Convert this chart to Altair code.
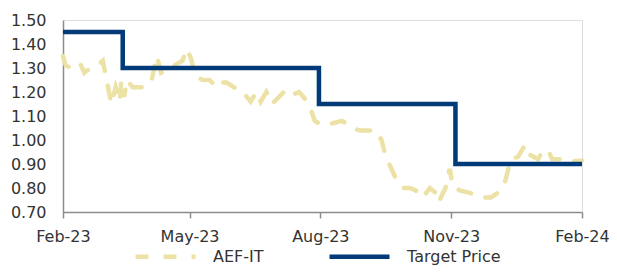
import altair as alt
import pandas as pd

price_dates = [
    "2023-02-01", "2023-02-03", "2023-02-07", "2023-02-13", "2023-02-16", "2023-02-18",
    "2023-02-25", "2023-03-01", "2023-03-04", "2023-03-07", "2023-03-10", "2023-03-13",
    "2023-03-14", "2023-03-16", "2023-03-18", "2023-03-22", "2023-03-27", "2023-03-30",
    "2023-04-04", "2023-04-08", "2023-04-11", "2023-04-15", "2023-04-20", "2023-04-26",
    "2023-04-29", "2023-05-02", "2023-05-05", "2023-05-10", "2023-05-15", "2023-05-20",
    "2023-05-23", "2023-05-27", "2023-06-01", "2023-06-06", "2023-06-13", "2023-06-17",
    "2023-06-20", "2023-06-24", "2023-06-28", "2023-07-03", "2023-07-08", "2023-07-13",
    "2023-07-17", "2023-07-20", "2023-07-24", "2023-07-28", "2023-08-01", "2023-08-07",
    "2023-08-16", "2023-08-19", "2023-08-23", "2023-08-29", "2023-09-04", "2023-09-09",
    "2023-09-13", "2023-09-16", "2023-09-20", "2023-09-23", "2023-09-28", "2023-10-03",
    "2023-10-07", "2023-10-12", "2023-10-17", "2023-10-21", "2023-10-23", "2023-10-28",
    "2023-10-31", "2023-11-02", "2023-11-07", "2023-11-14", "2023-11-22", "2023-11-29",
    "2023-12-06", "2023-12-09", "2023-12-13", "2023-12-18", "2023-12-23", "2023-12-26",
    "2024-01-01", "2024-01-04", "2024-01-08", "2024-01-11", "2024-01-18", "2024-01-25",
    "2024-02-01",
]
price_values = [
    1.35, 1.31, 1.30, 1.32, 1.28, 1.29,
    1.31, 1.33, 1.24, 1.15, 1.22, 1.16,
    1.25, 1.18, 1.25, 1.22, 1.22, 1.22,
    1.24, 1.35, 1.28, 1.29, 1.31, 1.33,
    1.38, 1.34, 1.27, 1.25, 1.25, 1.22,
    1.24, 1.24, 1.22, 1.21, 1.16, 1.20,
    1.16, 1.20, 1.15, 1.18, 1.21, 1.19,
    1.20, 1.18, 1.15, 1.08, 1.065, 1.065,
    1.08, 1.07, 1.05, 1.04, 1.04, 1.04,
    1.00, 0.93, 0.88, 0.84, 0.80, 0.80,
    0.79, 0.76, 0.80, 0.78, 0.74, 0.80,
    0.88, 0.81, 0.79, 0.78, 0.76, 0.76,
    0.79, 0.83, 0.92, 0.93, 0.98, 0.94,
    0.92, 0.95, 0.96, 0.92, 0.92, 0.91,
    0.915,
]

target_dates = ["2023-02-01", "2023-03-15", "2023-07-31", "2023-11-04", "2024-02-01"]
target_values = [1.45, 1.30, 1.15, 0.90, 0.90]

series_names = ["AEF-IT", "Target Price"]
series_colors = ["#EDE2A6", "#003A78"]
series_dash = [[13, 15], [1, 0]]

y_ticks = [0.7, 0.8, 0.9, 1.0, 1.1, 1.2, 1.3, 1.4, 1.5]
x_ticks = ["2023-02-01", "2023-05-01", "2023-08-01", "2023-11-01", "2024-02-01"]

price_df = pd.DataFrame({"date": price_dates, "value": price_values, "series": series_names[0]})
target_df = pd.DataFrame({"date": target_dates, "value": target_values, "series": series_names[1]})

FONT = "DejaVu Sans"
FS = 16
TXT = "#333333"

x_enc = alt.X(
    "date:T",
    scale=alt.Scale(domain=[x_ticks[0], x_ticks[-1]]),
    axis=alt.Axis(
        title=None,
        values=[pd.Timestamp(d).isoformat() for d in x_ticks],
        format="%b-%y",
        labelFontSize=FS,
        labelFont=FONT,
        labelColor=TXT,
        domainColor="#8c8c8c",
        domainWidth=1.5,
        tickColor="#8c8c8c",
        tickWidth=1.5,
        tickSize=6,
        labelPadding=10,
        grid=False,
        labelFlush=False,
        labelOverlap=False,
    ),
)
y_enc = alt.Y(
    "value:Q",
    scale=alt.Scale(domain=[0.7, 1.5], nice=False, zero=False),
    axis=alt.Axis(
        title=None,
        values=y_ticks,
        format=".2f",
        labelFontSize=FS,
        labelFont=FONT,
        labelColor=TXT,
        domainColor="#8c8c8c",
        domainWidth=1.5,
        ticks=False,
        labelPadding=17,
        grid=False,
    ),
)
color_enc = alt.Color(
    "series:N",
    scale=alt.Scale(domain=series_names, range=series_colors),
    legend=alt.Legend(
        title=None,
        orient="none",
        legendX=70,
        legendY=204,
        direction="horizontal",
        symbolType="stroke",
        symbolSize=3600,
        symbolStrokeWidth=4.5,
        labelFontSize=FS,
        labelFont=FONT,
        labelColor=TXT,
        labelOffset=15,
        columnPadding=56,
        padding=0,
    ),
)
dash_enc = alt.StrokeDash(
    "series:N",
    scale=alt.Scale(domain=series_names, range=series_dash),
    legend=None,
)

price_line = alt.Chart(price_df).mark_line(
    strokeWidth=4.5, strokeCap="round", interpolate="linear"
).encode(x=x_enc, y=y_enc, color=color_enc, strokeDash=dash_enc)

target_line = alt.Chart(target_df).mark_line(
    strokeWidth=4.5, interpolate="step-after"
).encode(x=x_enc, y=y_enc, color=color_enc, strokeDash=dash_enc)

chart = (
    alt.layer(price_line, target_line)
    .properties(
        width=519,
        height=192,
        autosize=alt.AutoSizeParams(type="none"),
        padding={"left": 55, "top": 12, "right": 27, "bottom": 55},
    )
    .configure_view(stroke=None)
    .configure(background="white")
)

chart.save("out.html", embed_options={"renderer": "svg", "actions": False})
